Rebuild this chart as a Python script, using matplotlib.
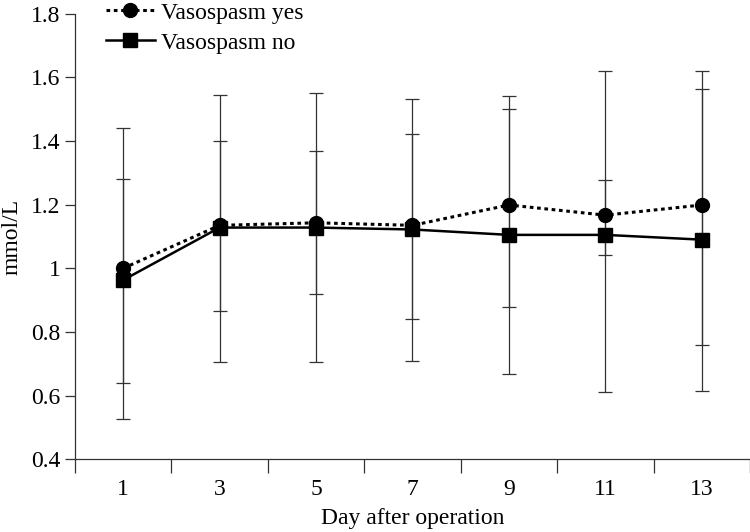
import matplotlib.pyplot as plt
import numpy as np

plt.rcParams['font.family'] = ['Liberation Serif', 'DejaVu Serif']

days = [1, 3, 5, 7, 9, 11, 13]
yes_mean = [1.0, 1.135, 1.143, 1.135, 1.199, 1.167, 1.199]
no_mean = [0.963, 1.128, 1.128, 1.122, 1.105, 1.105, 1.09]
# upper / lower ends of the error bars
yes_hi = [1.44, 1.545, 1.55, 1.533, 1.541, 1.619, 1.619]
yes_lo = [0.525, 0.705, 0.705, 0.707, 0.667, 0.611, 0.614]
no_hi = [1.28, 1.40, 1.37, 1.421, 1.502, 1.276, 1.563]
no_lo = [0.64, 0.865, 0.92, 0.841, 0.879, 1.042, 0.758]

fig = plt.figure(figsize=(7.5, 5.32), dpi=100)
ax = fig.add_axes([0.1, 0.137, 0.9, 0.837])

err_style = dict(fmt='none', ecolor='#333333', elinewidth=0.9, capsize=5, capthick=0.9, zorder=1)
ax.errorbar(days, yes_mean,
            yerr=[np.array(yes_mean) - np.array(yes_lo), np.array(yes_hi) - np.array(yes_mean)],
            **err_style)
ax.errorbar(days, no_mean,
            yerr=[np.array(no_mean) - np.array(no_lo), np.array(no_hi) - np.array(no_mean)],
            **err_style)

ax.plot(days, yes_mean, color='black', linestyle=(0, (1.2, 1.2)), linewidth=2.2,
        marker='o', markersize=10, label='Vasospasm yes', zorder=3)
ax.plot(days, no_mean, color='black', linestyle='-', linewidth=1.8,
        marker='s', markersize=9.5, label='Vasospasm no', zorder=3)

ax.set_xlim(0, 14)
ax.set_ylim(0.4, 1.8)
ax.set_xticks(range(0, 15, 2))
ax.set_xticklabels([])
ax.set_xticks(days, minor=True)
ax.set_xticklabels([str(d) for d in days], minor=True)
ax.tick_params(axis='x', which='major', direction='out', length=10, width=0.9, color='#333333')
ax.tick_params(axis='x', which='minor', length=0, pad=14, labelsize=17)
ax.set_yticks([0.4, 0.6, 0.8, 1.0, 1.2, 1.4, 1.6, 1.8])
ax.set_yticklabels(['0.4', '0.6', '0.8', '1', '1.2', '1.4', '1.6', '1.8'])
ax.tick_params(axis='y', direction='out', length=7, width=0.9, color='#333333', labelsize=17)

for s in ['top', 'right']:
    ax.spines[s].set_visible(False)
for s in ['left', 'bottom']:
    ax.spines[s].set_linewidth(0.9)
    ax.spines[s].set_color('#333333')

ax.set_xlabel('Day after operation', fontsize=17, labelpad=6)
ax.set_ylabel('mmol/L', fontsize=17, labelpad=6)

fig.legend(loc='upper left', bbox_to_anchor=(0.125, 1.018), frameon=False, fontsize=17,
           handlelength=2.1, handletextpad=0.25, labelspacing=0.35, borderpad=0)

fig.savefig('out.png', dpi=100)
